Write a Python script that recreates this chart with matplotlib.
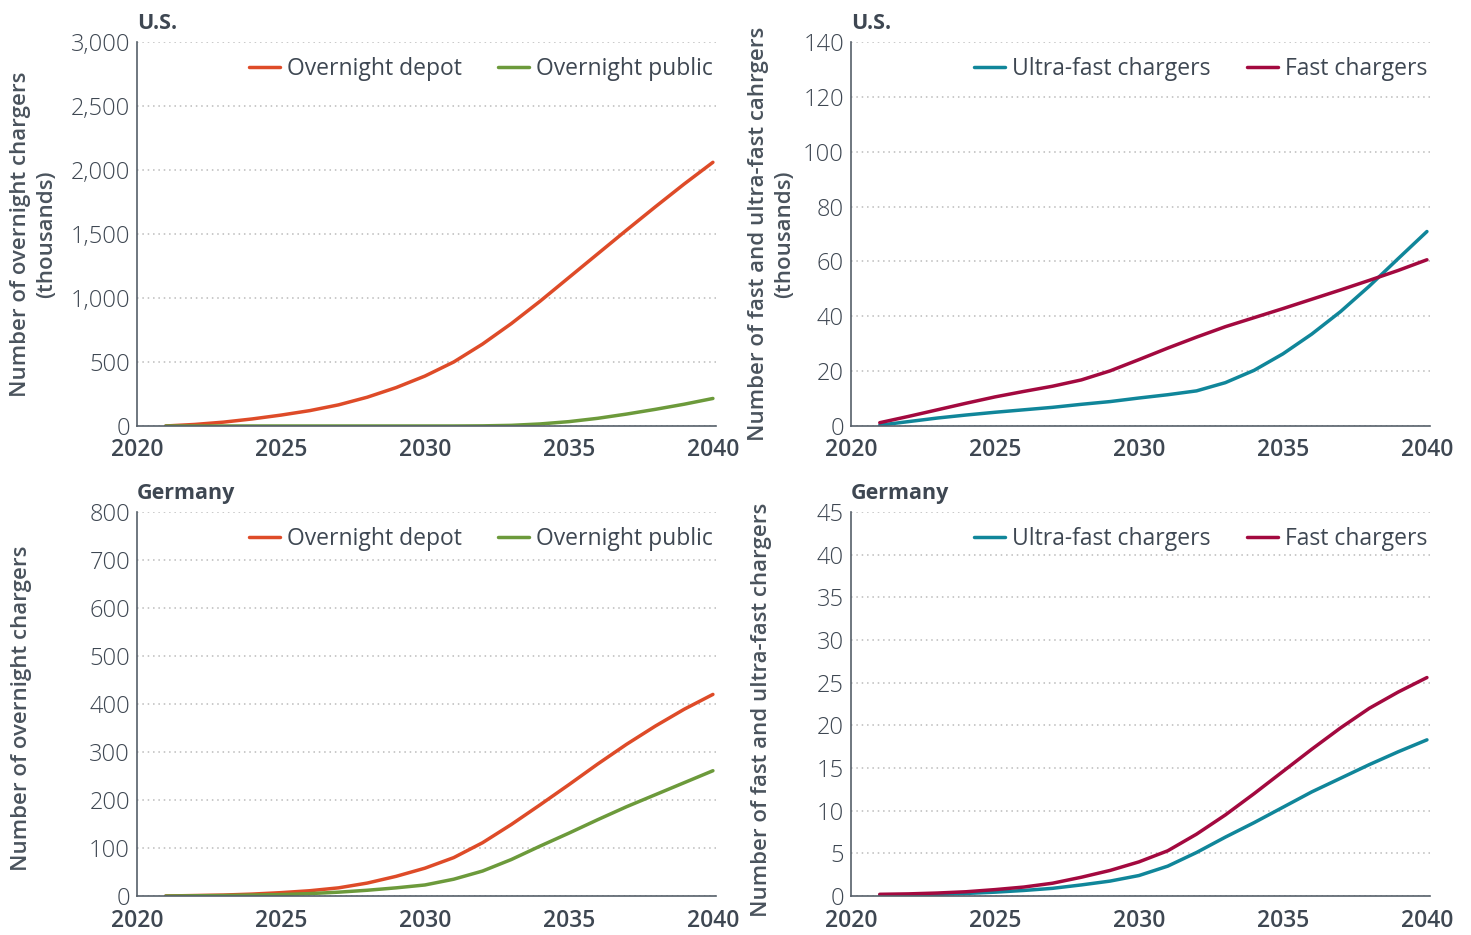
import matplotlib
matplotlib.use("Agg")
import matplotlib.pyplot as plt
from matplotlib.ticker import FuncFormatter

years = list(range(2021, 2041))

# U.S. overnight chargers (thousands)
us_depot = [0, 12, 30, 55, 85, 120, 165, 225, 300, 390, 500, 640, 800, 975,
            1160, 1345, 1530, 1712, 1890, 2060]
us_public = [0, 0, 0, 0, 0, 0, 0, 0, 0, 0, 0, 1, 5, 16, 34, 60, 93, 130, 170, 215]

# U.S. fast / ultra-fast chargers (thousands)
us_ultra = [0.3, 1.6, 2.9, 4.0, 5.0, 5.9, 6.8, 7.9, 8.9, 10.2, 11.4, 12.8, 15.8,
            20.3, 26.3, 33.5, 41.7, 51.0, 61.0, 70.9]
us_fast = [1.2, 3.5, 5.9, 8.3, 10.6, 12.6, 14.5, 16.8, 20.1, 24.2, 28.4, 32.4,
           36.2, 39.5, 42.8, 46.2, 49.6, 53.1, 56.7, 60.6]

# Germany overnight chargers
de_depot = [0, 1, 2, 4, 7, 11, 17, 27, 41, 58, 80, 111, 149, 190, 232, 275,
            316, 354, 389, 420]
de_public = [0, 0.5, 1, 2, 3, 5, 8, 12, 17, 23, 35, 52, 76, 104, 131, 159,
             186, 211, 236, 261]

# Germany fast / ultra-fast chargers
de_ultra = [0.1, 0.15, 0.2, 0.3, 0.45, 0.65, 0.9, 1.3, 1.75, 2.4, 3.5, 5.1,
            6.9, 8.6, 10.4, 12.2, 13.8, 15.4, 16.9, 18.3]
de_fast = [0.2, 0.25, 0.35, 0.5, 0.75, 1.05, 1.5, 2.2, 3.0, 4.0, 5.3, 7.25,
           9.5, 12.0, 14.6, 17.2, 19.7, 22.0, 23.9, 25.6]

C_DEPOT = "#DE4B28"
C_PUBLIC = "#6C9A3B"
C_ULTRA = "#10869A"
C_FAST = "#A3093F"
TXT = "#3E4752"
AXC = "#56606A"

plt.rcParams["font.family"] = ["Open Sans", "DejaVu Sans"]

fig = plt.figure(figsize=(14.71, 9.35), dpi=100)

W = 0.3935
H = 0.4107
axes_specs = [
    # left, bottom, title, series, ylim, yticks, ylabel, label x, label y
    (0.0931, 0.5444, "U.S.", [(us_depot, "Overnight depot", C_DEPOT), (us_public, "Overnight public", C_PUBLIC)],
     3000, range(0, 3001, 500), "Number of overnight chargers\n(thousands)", -0.138, 0.5),
    (0.5785, 0.5444, "U.S.", [(us_ultra, "Ultra-fast chargers", C_ULTRA), (us_fast, "Fast chargers", C_FAST)],
     140, range(0, 141, 20), "Number of fast and ultra-fast cahrgers\n(thousands)", -0.097, 0.5),
    (0.0931, 0.0417, "Germany", [(de_depot, "Overnight depot", C_DEPOT), (de_public, "Overnight public", C_PUBLIC)],
     800, range(0, 801, 100), "Number of overnight chargers", -0.182, 0.488),
    (0.5785, 0.0417, "Germany", [(de_ultra, "Ultra-fast chargers", C_ULTRA), (de_fast, "Fast chargers", C_FAST)],
     45, range(0, 46, 5), "Number of fast and ultra-fast chargers", -0.137, 0.486),
]

for left, bottom, title, series, ymax, yticks, ylabel, lx, ly in axes_specs:
    ax = fig.add_axes([left, bottom, W, H])
    for vals, name, col in series:
        ax.plot(years, vals, color=col, lw=2.5, label=name, solid_capstyle="round")
    ax.set_xlim(2020, 2040.1)
    ax.set_ylim(0, ymax)
    ax.set_xticks([2020, 2025, 2030, 2035, 2040])
    ax.set_yticks(list(yticks))
    ax.yaxis.set_major_formatter(FuncFormatter(lambda v, p: f"{int(v):,}"))
    ax.grid(axis="y", linestyle=(0, (1, 2.5)), color="#BBBBBB", lw=1.1)
    ax.set_axisbelow(True)
    for s in ["top", "right"]:
        ax.spines[s].set_visible(False)
    for s in ["left", "bottom"]:
        ax.spines[s].set_color(AXC)
        ax.spines[s].set_linewidth(1.2)
    ax.tick_params(length=0)
    ax.tick_params(axis="y", labelsize=17, labelcolor=TXT, pad=5)
    ax.tick_params(axis="x", labelsize=16.5, labelcolor=TXT, pad=9)
    for t in ax.get_xticklabels():
        t.set_fontweight("semibold")
    for t in ax.get_yticklabels():
        t.set_fontweight("light")
    ax.set_ylabel(ylabel, fontsize=16, color="#4A535D", fontweight="semibold",
                  linespacing=1.3)
    ax.yaxis.set_label_coords(lx, ly)
    ax.text(0.0, 1.022, title, transform=ax.transAxes, fontsize=15.5,
            fontweight="bold", color=TXT, ha="left", va="bottom")
    ax.legend(loc="upper right", ncol=2, frameon=False, fontsize=16.5,
              handlelength=1.35, handletextpad=0.3, columnspacing=1.6,
              borderaxespad=0.0, borderpad=0.0, bbox_to_anchor=(0.995, 0.96),
              labelcolor=TXT)

fig.savefig("out.png", dpi=100)
